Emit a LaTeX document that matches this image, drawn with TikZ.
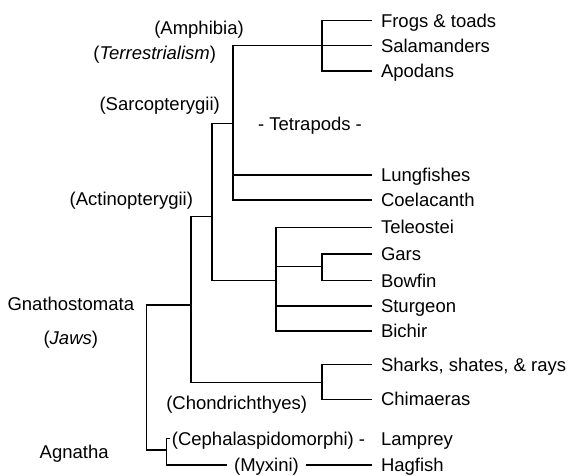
\documentclass[tikz,border=0pt]{standalone}
\usepackage{fontspec}
\setmainfont{Liberation Sans}
\begin{document}
\begin{tikzpicture}[x=1pt,y=-1pt,
  every node/.style={font=\fontsize{18.5}{22}\selectfont, text height=13.2pt, text depth=0pt, inner ysep=0pt},
  leaf/.style={anchor=west, inner xsep=8.8pt},
  lbl/.style={inner xsep=0pt},
  br/.style={line width=1.5pt, black}]
\useasboundingbox (0,0) rectangle (568,475);
% leaves
\node[leaf] (frogs) at (372,20.7) {Frogs \& toads};
\node[leaf] (sal) at (372,45.7) {Salamanders};
\node[leaf] (apod) at (372,71) {Apodans};
\node[leaf] (lung) at (372,175) {Lungfishes};
\node[leaf] (coel) at (372,200) {Coelacanth};
\node[leaf] (tel) at (372,227.3) {Teleostei};
\node[leaf] (gars) at (372,254) {Gars};
\node[leaf] (bowfin) at (372,280.7) {Bowfin};
\node[leaf] (sturg) at (372,306) {Sturgeon};
\node[leaf] (bichir) at (372,331) {Bichir};
\node[leaf] (sharks) at (372,364.5) {Sharks, shates, \& rays};
\node[leaf] (chim) at (372,399.3) {Chimaeras};
\node[leaf] (lamp) at (372,438.5) {Lamprey};
\node[leaf] (hag) at (372,465) {Hagfish};
% labels
\node[lbl] (amphl) at (199,28.3) {(Amphibia)};
\node[lbl] (terr) at (154.7,53.3) {(\textit{Terrestrialism})};
\node[lbl] (sarl) at (159.7,104) {(Sarcopterygii)};
\node[lbl] (tetl) at (310,124) {- Tetrapods -};
\node[lbl] (actl) at (131.3,199.3) {(Actinopterygii)};
\node[lbl] (gnl) at (70.8,304) {Gnathostomata};
\node[lbl] (jaws) at (70.8,338.3) {(\textit{Jaws})};
\node[lbl] (chl) at (236.7,403.3) {(Chondrichthyes)};
\node[lbl] (agl) at (74.2,451.7) {Agnatha};
\node[anchor=west, inner xsep=1.7pt] (ceph) at (170,438.5) {(Cephalaspidomorphi) -};
\node[inner xsep=6.6pt] (myx) at (266.5,465) {(Myxini)};
% branch points
\coordinate (amph) at (322,45.7);
\coordinate (tet) at (233,123.3);
\coordinate (sarco) at (212,216.7);
\coordinate (actino) at (276,280.7);
\coordinate (gb) at (322,266.7);
\coordinate (gnath) at (191,305);
\coordinate (chond) at (322,382.3);
\coordinate (root) at (146.7,450);
\coordinate (agn) at (166.7,450);
% connectors
\draw[br] (frogs.west) -| (amph) |- (apod.west);
\draw[br] (sal.west) -| (tet) |- (coel.west);
\draw[br] (tet |- lung.west) -- (lung.west);
\draw[br] (tet) -| (sarco) |- (actino);
\draw[br] (tel.west) -| (actino) |- (bichir.west);
\draw[br] (actino |- sturg.west) -- (sturg.west);
\draw[br] (actino |- gb) -- (gb);
\draw[br] (gars.west) -| (gb) |- (bowfin.west);
\draw[br] (sarco) -| (gnath) |- (chond);
\draw[br] (sharks.west) -| (chond) |- (chim.west);
\draw[br] (gnath) -| (root) -- (agn);
\draw[br] (ceph.west) -| (agn) |- (myx.west);
\draw[br] (myx.east) -- (hag.west);
\end{tikzpicture}
\end{document}
